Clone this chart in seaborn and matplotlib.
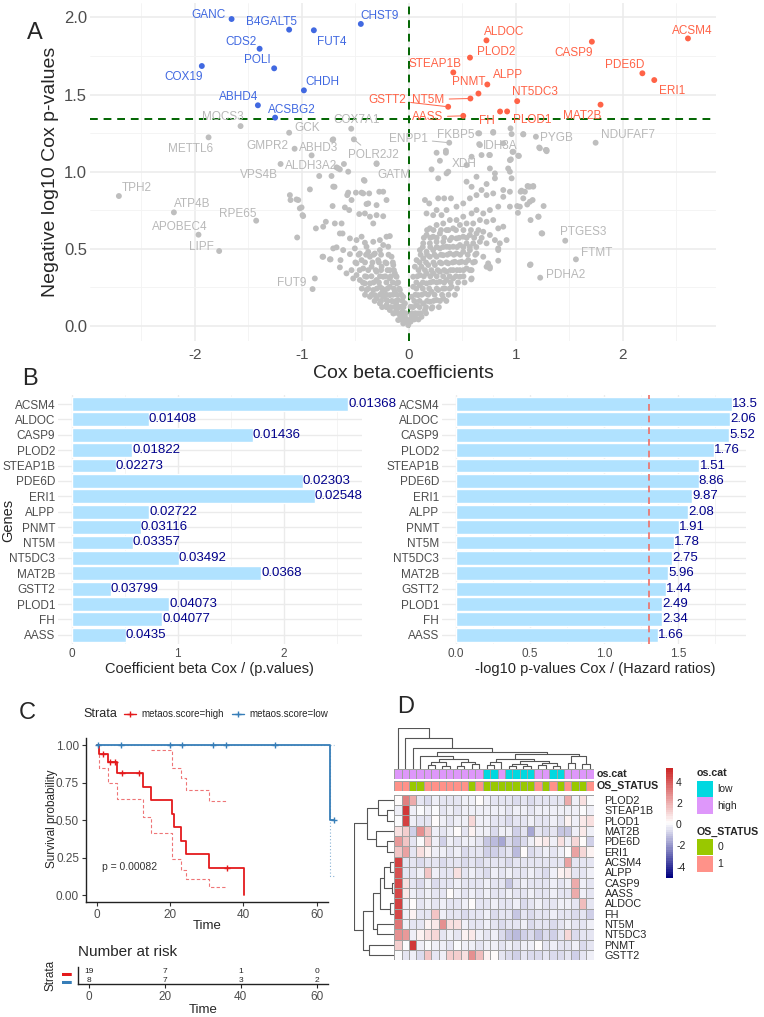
import matplotlib
matplotlib.use('Agg')
import matplotlib.pyplot as plt
from matplotlib.colors import LinearSegmentedColormap, ListedColormap
from matplotlib.lines import Line2D
from matplotlib.patches import Rectangle
from matplotlib.ticker import FormatStrFormatter
import numpy as np
import pandas as pd
import seaborn as sns

# ---------------------------------------------------------------- data
# significant positive genes (panel A red points, panel B bars)
sig_genes = ['ACSM4', 'ALDOC', 'CASP9', 'PLOD2', 'STEAP1B', 'PDE6D', 'ERI1', 'ALPP',
             'PNMT', 'NT5M', 'NT5DC3', 'MAT2B', 'GSTT2', 'PLOD1', 'FH', 'AASS']
sig_beta = [2.608, 0.725, 1.710, 0.571, 0.415, 2.182, 2.293, 0.733,
            0.650, 0.575, 1.012, 1.791, 0.367, 0.918, 0.852, 0.508]
sig_pval = [0.01368, 0.01408, 0.01436, 0.01822, 0.02273, 0.02303, 0.02548, 0.02722,
            0.03116, 0.03357, 0.03492, 0.0368, 0.03799, 0.04073, 0.04077, 0.0435]
sig_hr = ['13.5', '2.06', '5.52', '1.76', '1.51', '8.86', '9.87', '2.08',
          '1.91', '1.78', '2.75', '5.96', '1.44', '2.49', '2.34', '1.66']

# significant negative genes (blue)
neg_genes = ['GANC', 'B4GALT5', 'FUT4', 'CHST9', 'CDS2', 'POLI', 'COX19', 'CHDH', 'ABHD4', 'ACSBG2']
neg_beta = [-1.657, -1.119, -0.888, -0.449, -1.395, -1.259, -1.935, -0.981, -1.411, -1.250]
neg_logp = [1.990, 1.921, 1.917, 1.958, 1.797, 1.670, 1.685, 1.527, 1.430, 1.350]

# labelled non significant genes (grey)
grey_genes = ['MOCS3', 'METTL6', 'GCK', 'GMPR2', 'ABHD3', 'COX7A1', 'POLR2J2', 'VPS4B',
              'ALDH3A2', 'GATM', 'ENPP1', 'FKBP5', 'IDH3A', 'PYGB', 'NDUFAF7', 'XDH',
              'TPH2', 'ATP4B', 'RPE65', 'APOBEC4', 'LIPF', 'FUT9', 'PTGES3', 'FTMT', 'PDHA2']
grey_beta = [-1.573, -1.872, -1.119, -1.068, -0.909, -0.539, -0.514, -1.199,
             -0.661, -0.414, 0.377, 0.657, 0.657, 1.187, 1.745, 0.368,
             -2.710, -2.196, -1.427, -1.966, -1.773, -0.900, 1.461, 1.561, 1.227]
grey_logp = [1.295, 1.222, 1.252, 1.148, 1.105, 1.278, 1.209, 1.049,
             1.021, 0.940, 1.187, 1.248, 1.178, 1.226, 1.187, 0.999,
             0.841, 0.735, 0.681, 0.590, 0.484, 0.237, 0.551, 0.430, 0.311]

# unlabelled background genes (beta, -log10 p)
cloud = [
    (-1.050, 0.819), (-1.003, 0.767), (-0.988, 0.711), (-0.869, 0.631), (-0.801, 0.642),
    (-0.692, 0.663), (-0.629, 0.663), (-0.620, 0.598), (-1.044, 0.572), (-0.925, 0.884),
    (-1.112, 0.847), (-1.106, 0.815), (-1.034, 0.815), (-1.019, 0.761), (-0.994, 0.717),
    (-0.776, 0.674), (-0.713, 0.776), (-0.695, 0.901), (-0.838, 0.971), (-0.723, 0.971),
    (-0.567, 0.999), (-0.598, 0.767), (-0.645, 0.598), (-0.807, 0.447), (-0.732, 0.430),
    (-0.707, 0.501), (-0.645, 0.378), (-0.567, 0.863), (-0.495, 0.863), (-0.536, 0.815),
    (-0.427, 0.858), (-0.380, 0.793), (-0.302, 0.782), (-0.240, 0.869), (-0.209, 0.815),
    (-0.713, 1.205), (-0.302, 1.053), (-0.645, 1.014), (-0.676, 1.027), (-0.707, 0.902),
    (-0.421, 0.945), (-0.576, 0.847), (-0.442, 0.863), (-0.371, 0.858), (-0.277, 0.869),
    (-0.396, 0.789), (-0.558, 0.750), (-0.411, 0.728), (-0.364, 0.707), (-0.464, 0.724),
    (-0.302, 0.717), (-0.333, 0.663), (-0.240, 0.710), (-0.551, 0.566), (-0.489, 0.555),
    (-0.442, 0.577), (-0.411, 0.538), (-0.333, 0.544), (-0.271, 0.555), (-0.209, 0.577),
    (-0.178, 0.581), (-0.676, 0.508), (-0.614, 0.490), (-0.801, 0.447), (-0.738, 0.430),
    (-0.639, 0.425), (-0.551, 0.464), (-0.505, 0.501), (-0.458, 0.468), (-0.396, 0.512),
    (-0.364, 0.447), (-0.318, 0.468), (-0.271, 0.490), (-0.240, 0.523), (-0.193, 0.512),
    (-0.162, 0.447), (-0.879, 0.306), (-0.489, 0.404), (-0.427, 0.371), (-0.536, 0.360),
    (-0.583, 0.339), (-0.396, 0.317), (-0.349, 0.382), (-0.302, 0.350), (-0.255, 0.382),
    (-0.209, 0.404), (-0.178, 0.360), (-0.458, 0.296), (-0.364, 0.274), (-0.302, 0.296),
    (-0.240, 0.317), (-0.178, 0.306), (-0.131, 0.339), (-0.333, 0.231), (-0.271, 0.252),
    (-0.224, 0.231), (-0.178, 0.252), (-0.115, 0.274), (-0.364, 0.187), (-0.302, 0.176),
    (-0.240, 0.187), (-0.178, 0.198), (-0.131, 0.220), (-0.084, 0.231), (-0.271, 0.144),
    (-0.209, 0.133), (-0.146, 0.155), (-0.100, 0.166), (-0.053, 0.187), (-0.178, 0.101),
    (-0.115, 0.101), (-0.069, 0.122), (-0.037, 0.144), (-0.084, 0.068), (-0.037, 0.057),
    (-0.022, 0.025), (-0.006, 0.003), (-0.411, 0.274), (-0.396, 0.231), (-0.318, 0.198),
    (-0.255, 0.209), (-0.209, 0.166), (-0.115, 0.133), (-0.146, 0.079), (-0.059, 0.090),
    (-0.100, 0.036), (-0.053, 0.014), (-0.489, 0.328), (-0.520, 0.306), (-0.442, 0.425),
    (-0.287, 0.425), (-0.146, 0.393), (-0.115, 0.317), (-0.380, 0.479), (-0.707, 1.209),
    (-0.607, 1.049), (-0.302, 1.049),
    (0.150, 0.815), (0.165, 0.728), (0.190, 0.793), (0.274, 0.826), (0.330, 0.826),
    (0.393, 0.826), (0.259, 0.750), (0.227, 0.717), (0.305, 0.717), (0.352, 0.750),
    (0.445, 0.772), (0.508, 0.793), (0.570, 0.826), (0.632, 0.847), (0.679, 0.880),
    (0.726, 0.847), (0.788, 0.858), (0.882, 0.880), (0.944, 0.869), (1.053, 0.876),
    (1.115, 0.902), (1.162, 0.902), (1.037, 0.772), (1.131, 0.804), (1.209, 0.707),
    (1.240, 0.599), (1.131, 0.393), (0.944, 0.772), (0.835, 0.772), (0.882, 0.836),
    (0.757, 0.750), (0.695, 0.728), (0.632, 0.750), (0.586, 0.728), (0.508, 0.707),
    (0.445, 0.685), (0.383, 0.685), (0.321, 0.663), (0.259, 0.653), (0.196, 0.631),
    (0.165, 0.588), (0.227, 0.577), (0.290, 0.598), (0.352, 0.620), (0.414, 0.631),
    (0.477, 0.653), (0.539, 0.663), (0.601, 0.663), (0.664, 0.685), (0.726, 0.674),
    (0.788, 0.685), (0.835, 0.631), (0.882, 0.642), (0.850, 0.534), (0.835, 0.490),
    (0.757, 0.382), (0.134, 0.534), (0.196, 0.534), (0.259, 0.544), (0.321, 0.544),
    (0.383, 0.555), (0.445, 0.566), (0.508, 0.577), (0.570, 0.588), (0.632, 0.598),
    (0.695, 0.609), (0.757, 0.588), (0.804, 0.555), (0.103, 0.490), (0.165, 0.479),
    (0.227, 0.490), (0.290, 0.501), (0.352, 0.512), (0.414, 0.512), (0.477, 0.523),
    (0.539, 0.534), (0.601, 0.534), (0.664, 0.544), (0.726, 0.534), (0.072, 0.425),
    (0.134, 0.436), (0.196, 0.447), (0.259, 0.447), (0.321, 0.457), (0.383, 0.468),
    (0.445, 0.468), (0.508, 0.479), (0.570, 0.490), (0.632, 0.468), (0.695, 0.447),
    (0.741, 0.404), (0.056, 0.382), (0.118, 0.382), (0.181, 0.393), (0.243, 0.393),
    (0.305, 0.404), (0.368, 0.404), (0.430, 0.414), (0.492, 0.414), (0.555, 0.425),
    (0.617, 0.414), (0.586, 0.306), (0.040, 0.317), (0.103, 0.328), (0.165, 0.339),
    (0.227, 0.339), (0.290, 0.350), (0.352, 0.350), (0.414, 0.360), (0.477, 0.360),
    (0.539, 0.371), (0.040, 0.252), (0.103, 0.263), (0.165, 0.274), (0.227, 0.285),
    (0.290, 0.285), (0.352, 0.296), (0.414, 0.306), (0.477, 0.317), (0.025, 0.187),
    (0.087, 0.198), (0.150, 0.209), (0.212, 0.220), (0.274, 0.231), (0.336, 0.241),
    (0.399, 0.252), (0.016, 0.122), (0.072, 0.133), (0.134, 0.144), (0.196, 0.155),
    (0.259, 0.166), (0.321, 0.176), (0.025, 0.068), (0.087, 0.079), (0.150, 0.101),
    (0.212, 0.111), (0.016, 0.025), (0.065, 0.047), (0.118, 0.057),
    (0.259, 1.122), (0.290, 1.070), (0.212, 1.014), (0.274, 0.956), (0.539, 1.042),
    (0.586, 1.096), (0.679, 1.107), (0.757, 1.020), (0.804, 0.956), (0.804, 0.988),
    (0.928, 1.020), (0.944, 0.999), (0.944, 1.074), (0.960, 0.956), (0.539, 0.934),
    (0.632, 0.966), (0.726, 0.919), (0.586, 0.901), (0.648, 1.248), (0.788, 1.252),
    (0.664, 1.172), (0.882, 1.183), (0.960, 1.243), (1.069, 1.243), (1.280, 1.140),
    (1.224, 1.151), (1.131, 0.902), (1.084, 0.869), (1.246, 0.598), (1.137, 0.397),
    (1.259, 0.776), (1.212, 0.707), (1.137, 0.685), (1.156, 0.815), (1.106, 0.786),
    (1.019, 0.732), (1.012, 0.776), (1.109, 0.906), (1.162, 0.906), (1.069, 0.826),
    (1.044, 0.869), (0.913, 0.555), (0.835, 0.501), (0.835, 0.421), (0.757, 0.371),
    (0.726, 0.382), (0.583, 0.300), (0.586, 0.360), (1.028, 1.101), (0.975, 1.128),
    (0.953, 1.079), (0.757, 1.107), (1.287, 1.132), (0.352, 0.988), (0.346, 1.135),
    (0.788, 1.257), (0.950, 1.280), (1.069, 1.241), (1.218, 1.156), (1.287, 1.139),
    (0.751, 1.107), (0.969, 1.128), (1.022, 1.103), (0.346, 1.122),
]
# the dense lower part of the V, read row by row: -log10 p -> betas
cloud_dense = {
    0.04: [-0.02, -0.05, -0.08, 0.02, 0.05, 0.09],
    0.08: [-0.03, -0.06, -0.10, -0.14, 0.03, 0.06, 0.11, 0.16],
    0.12: [-0.05, -0.09, -0.13, -0.17, -0.21, -0.25, 0.04, 0.10, 0.16, 0.22, 0.28],
    0.16: [-0.06, -0.12, -0.16, -0.20, -0.26, -0.32, 0.05, 0.10, 0.17, 0.23, 0.29, 0.35],
    0.20: [-0.07, -0.11, -0.15, -0.21, -0.27, -0.35, -0.41, 0.06, 0.12, 0.18, 0.24, 0.31,
           0.37, 0.43],
    0.24: [-0.09, -0.14, -0.20, -0.25, -0.30, -0.38, -0.44, 0.07, 0.13, 0.19, 0.26, 0.32,
           0.38, 0.45],
    0.28: [-0.10, -0.15, -0.21, -0.28, -0.33, -0.43, 0.07, 0.13, 0.20, 0.26, 0.33, 0.39,
           0.46, 0.52],
    0.32: [-0.12, -0.17, -0.22, -0.27, -0.35, -0.41, 0.08, 0.14, 0.20, 0.26, 0.32, 0.38,
           0.44, 0.51],
    0.36: [-0.14, -0.20, -0.26, -0.31, -0.38, -0.46, 0.09, 0.15, 0.21, 0.27, 0.33, 0.39,
           0.45, 0.51, 0.57],
    0.41: [-0.15, -0.22, -0.28, -0.34, -0.41, -0.50, 0.10, 0.16, 0.23, 0.29, 0.35, 0.41,
           0.47, 0.53, 0.60],
    0.46: [-0.19, -0.26, -0.33, -0.40, -0.47, 0.11, 0.17, 0.24, 0.30, 0.36, 0.42, 0.48,
           0.55, 0.62],
    0.51: [0.13, 0.20, 0.26, 0.32, 0.38, 0.45, 0.51, 0.57, 0.63],
    0.57: [0.14, 0.20, 0.26, 0.33, 0.40, 0.47, 0.54, 0.61, 0.68],
    0.62: [0.17, 0.23, 0.30, 0.37, 0.44, 0.51, 0.58, 0.65],
}
cloud_beta = [c[0] for c in cloud] + [b for v in cloud_dense.values() for b in v]
cloud_logp = [c[1] for c in cloud] + [y for y, v in cloud_dense.items() for _ in v]
p_cut = 1.34

# survival curves (panel C)
high_t = [0, 0.64, 3.2, 5.45, 12.7, 14.7, 20.6, 21.0, 23.1, 24.4, 30.5, 40.3]
high_s = [1.0, 0.944, 0.889, 0.813, 0.724, 0.633, 0.542, 0.453, 0.362, 0.273, 0.182, 0.0]
high_up_t = [14.7, 20.6, 23.1, 24.4, 30.5, 35.5]
high_up_s = [0.969, 0.851, 0.780, 0.704, 0.627, 0.627]
high_lo_t = [0, 0.64, 3.2, 5.45, 12.7, 14.7, 20.6, 23.1, 24.4, 30.5, 35.5]
high_lo_s = [1.0, 0.849, 0.747, 0.640, 0.520, 0.413, 0.240, 0.169, 0.107, 0.053, 0.053]
high_cens_t = [1.6, 3.6, 5.0, 6.9, 11.6, 35.5]
high_cens_s = [0.944, 0.889, 0.889, 0.813, 0.813, 0.182]
low_t = [0, 63.7, 64.8]
low_s = [1.0, 0.5, 0.5]
low_lo_s = [1.0, 0.127, 0.127]
low_cens_t = [0.45, 6.7, 20.1, 23.3, 31.8, 35.2, 48.7, 64.8]
low_cens_s = [1, 1, 1, 1, 1, 1, 1, 0.5]
risk_times = [0, 20, 40, 60]
risk_high = [19, 7, 1, 0]
risk_low = [8, 7, 3, 2]

# heatmap (panel D)
heat_genes = ['PLOD2', 'STEAP1B', 'PLOD1', 'MAT2B', 'PDE6D', 'ERI1', 'ACSM4', 'ALPP',
              'CASP9', 'AASS', 'ALDOC', 'FH', 'NT5M', 'NT5DC3', 'PNMT', 'GSTT2']
heat_values = [
    [0.3, 3.2, 2.0, -0.5, -0.6, -0.2, -0.5, -0.4, -0.5, -0.3, -0.2, 0.3, -0.3, -0.4, -0.5, -0.5, -0.6, -0.5, -0.6, -0.5, -0.5, -0.4, -0.4, 2.0, -0.3, 0.8, -0.1],
    [-0.3, 4.8, -0.2, -0.1, -0.3, -0.1, -0.4, -0.2, -0.4, -0.3, -0.2, -0.3, -0.2, -0.2, -0.3, -0.4, -0.3, -0.3, -0.4, -0.3, -0.2, -0.3, -0.3, -0.2, -0.2, -0.1, -0.3],
    [-0.1, 4.5, -0.2, -0.5, -0.4, 0.3, -0.3, -0.4, -0.3, -0.2, 1.0, -0.3, -0.3, -0.5, -0.4, -0.6, -0.4, -0.5, -0.3, -0.5, -0.4, -0.2, -0.4, 0.5, -0.2, 0.6, 0.8],
    [0.8, 1.2, -0.8, 2.8, 1.5, -0.3, -0.5, -0.2, 0.3, -0.4, 0.5, -0.3, -0.2, -0.6, -0.3, -0.2, -0.8, -0.4, -1.6, -0.4, -0.7, -0.5, -1.0, -1.0, -0.3, 0.6, -0.3],
    [2.5, 1.5, -0.5, -0.1, 1.3, -0.3, -0.8, -0.3, -0.5, -0.2, -0.3, -0.4, -1.0, -1.2, -1.6, -0.6, -1.0, -0.6, -0.3, 0.5, 0.6, -0.2, 0.8, -0.3, 1.0, 0.3, -0.8],
    [1.5, 2.2, -0.4, 0.8, 0.5, -0.3, -0.2, -0.5, -0.3, -0.6, -0.4, -0.5, -0.8, -0.9, -0.6, -0.5, -1.3, 0.2, -0.6, -0.4, -0.2, -0.5, -0.3, 0.3, 2.2, 1.0, 0.5],
    [4.5, -0.5, -0.4, -0.6, -0.5, -0.4, -0.6, -0.5, -0.4, -0.6, -0.4, -0.6, -0.5, -0.4, -0.5, -0.6, -0.5, -0.4, -0.5, -0.4, -0.5, -0.5, -0.4, 2.3, -0.5, -0.4, -0.5],
    [4.2, -0.4, -0.5, -0.3, 1.5, -0.3, -0.5, -0.4, 0.8, -0.5, -0.3, -0.4, -0.6, -0.3, -0.4, -0.3, -0.4, -0.5, -0.3, -0.5, -0.6, -0.3, 0.5, 0.6, -0.4, -0.5, -0.3],
    [4.3, 0.8, -0.5, -0.7, -0.3, -0.6, -0.4, -0.5, -0.3, -0.5, -0.4, -0.5, -0.3, -0.5, -0.4, -1.0, -0.4, -0.3, -0.5, -0.4, -0.5, -0.3, -0.4, -0.2, 2.0, -0.3, -0.4],
    [4.4, 0.6, -0.3, -0.5, -0.2, -0.4, -0.5, 0.3, -0.3, -0.4, -0.2, -0.5, -0.3, -0.4, -0.5, -0.3, -0.5, -0.4, -0.3, -0.5, -0.4, -0.3, -0.5, -0.4, 2.0, -0.3, -0.5],
    [4.5, -0.2, 0.3, -0.4, -0.3, -0.5, -0.3, -0.4, -0.5, -0.3, 0.3, -0.4, -0.5, -0.3, -0.4, -0.5, -0.3, -0.6, -0.4, -0.3, -0.5, -0.4, -0.3, -0.2, -0.5, 1.6, -0.4],
    [4.4, -0.3, 0.4, -0.4, -0.5, 1.4, -0.3, -0.5, -0.4, -0.6, -0.5, -0.4, -0.3, -0.6, -0.4, -0.5, -1.0, -0.5, -0.6, -0.4, -0.5, -0.3, -0.4, -0.5, -0.6, -0.4, -0.8],
    [3.4, -0.3, -0.5, -0.4, 0.5, 0.6, 2.6, 0.8, 0.9, -0.3, -0.5, -0.4, -0.3, -0.5, -0.6, -0.4, -0.5, -0.3, -0.6, -0.4, -0.5, -0.6, -0.4, -0.3, -0.5, -0.4, -0.3],
    [2.8, 2.5, -0.3, 0.4, 0.9, 1.0, -0.4, -0.3, -0.5, 0.5, 0.7, -0.3, -0.5, -0.2, -0.6, -1.0, -1.2, -0.9, -0.7, -1.0, -0.6, -0.8, -0.5, 1.0, -0.6, -0.5, -0.4],
    [1.3, -0.1, 4.8, -0.3, -0.1, -0.3, -0.2, -0.4, -0.1, -0.3, -0.2, -0.4, -0.3, -0.2, -0.5, -0.3, -0.4, -0.2, -0.3, 0.3, -0.4, -0.3, -0.5, -0.4, -0.3, -0.6, -0.4],
    [-0.1, -0.5, -0.2, -0.6, 1.4, -0.5, -0.3, 1.2, 1.3, 0.9, 2.6, 1.6, 0.5, 0.3, -0.5, -0.6, -0.8, -0.5, -0.7, -0.6, -0.5, -0.7, -0.6, -0.4, -0.8, -0.5, -0.3],
]
os_cat = ['high'] * 12 + ['low', 'low', 'high', 'low', 'low', 'low', 'low',
                          'high', 'high', 'low', 'low'] + ['high'] * 4
os_status = [1, 1, 0, 0, 1, 1, 1, 1, 1, 1, 0, 1,
             0, 0, 0, 0, 0, 0, 0, 1, 0, 1, 0, 1, 0, 0, 1]

# dendrograms as (left, right, height) trees, leaves are column / row indices
col_tree = (0, (1, (2, ((3, (((4, 5, 12), (6, 7, 10), 20), ((8, 9, 8), (10, 11, 14), 22), 30), 38),
                       ((((12, 13, 12), 14, 20), (((15, 16, 8), (17, 18, 10), 16),
                                                  ((19, 20, 12), (21, 22, 10), 18), 24), 30),
                        ((23, 24, 18), (25, 26, 14), 40), 46), 52), 62), 92), 122)
row_tree = (((0, (1, 2, 20), 48), (3, (4, 5, 20), 53), 80),
            (((((6, 7, 13), (8, 9, 8), 30), (10, 11, 13), 40), (12, 13, 51), 60),
             (14, 15, 73), 90), 116)

# ---------------------------------------------------------------- style
W, H = 764, 1017
RED, BLUE, GREY = '#FF6347', '#4169E1', '#BEBEBE'
BAR = '#B0E2FF'
TXT = '#4D4D4D'
KM_RED, KM_BLUE = '#E41A1C', '#377EB8'
CAT_COL = {'low': '#00D8E0', 'high': '#DE97FA'}
STAT_COL = {0: '#99C800', 1: '#FF9289'}

# label offsets in pixels (dx, dy downwards, leader line)
lab_off = {
    'GANC': (-23, -4, 0), 'B4GALT5': (-18, -8, 0), 'FUT4': (18, 12, 0), 'CHST9': (19, -8, 0),
    'CDS2': (-19, -7, 0), 'POLI': (-17, -8, 0), 'COX19': (-18, 11, 0), 'CHDH': (18, -8, 0),
    'ABHD4': (-19, -8, 0), 'ACSBG2': (17, -8, 0),
    'ACSM4': (4, -7, 0), 'ALDOC': (18, -8, 0), 'CASP9': (-18, 11, 0), 'PLOD2': (26, -6, 0),
    'STEAP1B': (-18, -8, 0), 'PDE6D': (-18, -8, 0), 'ERI1': (18, 11, 0), 'ALPP': (21, -9, 0),
    'PNMT': (-10, -12, 0), 'NT5M': (-42, 1, 1), 'NT5DC3': (18, -9, 0), 'MAT2B': (-18, 11, 0),
    'GSTT2': (-61, -7, 1), 'PLOD1': (25, 9, 0), 'FH': (-13, 9, 0), 'AASS': (-36, 1, 1),
    'MOCS3': (-18, -9, 0), 'METTL6': (-18, 12, 0), 'GCK': (18, -5, 0), 'GMPR2': (-27, -3, 0),
    'ABHD3': (7, -7, 0), 'COX7A1': (5, -9, 0), 'POLR2J2': (19, 16, 1), 'VPS4B': (-22, 11, 0),
    'ALDH3A2': (-27, -2, 0), 'GATM': (29, -6, 0), 'ENPP1': (-41, -4, 1), 'FKBP5': (-23, 2, 0),
    'IDH3A': (21, 2, 0), 'PYGB': (21, 1, 0), 'NDUFAF7': (32, -8, 0), 'XDH': (16, -8, 0),
    'TPH2': (18, -8, 0), 'ATP4B': (18, -8, 0), 'RPE65': (-18, -7, 0), 'APOBEC4': (-19, -8, 0),
    'LIPF': (-18, -4, 0), 'FUT9': (-21, -6, 0), 'PTGES3': (18, -9, 0), 'FTMT': (21, -6, 0),
    'PDHA2': (25, -3, 0),
}


def box(x0, y0, x1, y1):
    return [x0 / W, 1 - y1 / H, (x1 - x0) / W, (y1 - y0) / H]


def ftext(x, y, s, **kw):
    fig.text(x / W, 1 - y / H, s, **kw)


def tree_segments(node):
    if isinstance(node, int):
        return node + 0.5, 0.0, []
    left, right, h = node
    pl, hl, sl = tree_segments(left)
    pr, hr, sr = tree_segments(right)
    seg = [(pl, hl), (pl, h), (pr, h), (pr, hr)]
    return (pl + pr) / 2, h, sl + sr + [seg]


sns.set_theme(style='white')
plt.rcParams['font.family'] = ['Liberation Sans', 'DejaVu Sans']
plt.rcParams['axes.unicode_minus'] = False

fig = plt.figure(figsize=(W / 100, H / 100), dpi=100)

# ---------------------------------------------------------------- panel A
ax = fig.add_axes(box(90, 3, 716, 341))
volc = pd.DataFrame({
    'beta': cloud_beta + grey_beta + neg_beta + sig_beta,
    'logp': cloud_logp + grey_logp + neg_logp + list(-np.log10(sig_pval)),
    'group': ['ns'] * (len(cloud_beta) + len(grey_beta)) + ['down'] * len(neg_beta)
             + ['up'] * len(sig_beta),
})
sns.scatterplot(data=volc, x='beta', y='logp', hue='group', hue_order=['ns', 'down', 'up'],
                palette={'ns': GREY, 'down': BLUE, 'up': RED}, s=18, linewidth=0,
                legend=False, ax=ax, zorder=3)
ax.axvline(0, color='#006400', ls=(0, (4, 3)), lw=1.4, zorder=2)
ax.axhline(p_cut, color='#006400', ls=(0, (4, 3)), lw=1.4, zorder=2)

labelled = ([(g, b, l, BLUE) for g, b, l in zip(neg_genes, neg_beta, neg_logp)]
            + [(g, b, l, RED) for g, b, l in zip(sig_genes, sig_beta, -np.log10(sig_pval))]
            + [(g, b, l, '#B8B8B8') for g, b, l in zip(grey_genes, grey_beta, grey_logp)])
for g, b, l, c in labelled:
    dx, dy, lead = lab_off[g]
    arrow = dict(arrowstyle='-', color=c, lw=0.7, shrinkA=1, shrinkB=2) if lead else None
    ax.annotate(g, (b, l), xytext=(dx, -dy), textcoords='offset pixels', ha='center',
                va='center', fontsize=8.5, color=c, arrowprops=arrow, zorder=4)

ax.set_xlim(-2.98, 2.87)
ax.set_ylim(-0.10, 2.094)
ax.set_xticks([-2, -1, 0, 1, 2])
ax.set_xticks([-2.5, -1.5, -0.5, 0.5, 1.5, 2.5], minor=True)
ax.set_yticks([0, 0.5, 1.0, 1.5, 2.0])
ax.set_yticks([0.25, 0.75, 1.25, 1.75], minor=True)
ax.yaxis.set_major_formatter(FormatStrFormatter('%.1f'))
ax.set_axisbelow(True)
ax.grid(True, which='major', color='#EBEBEB', lw=1.1)
ax.grid(True, which='minor', color='#F3F3F3', lw=0.6)
ax.tick_params(which='both', length=0)
ax.tick_params(axis='x', labelsize=11, labelcolor=TXT, pad=5)
ax.tick_params(axis='y', labelsize=12, labelcolor=TXT, pad=2)
ax.set_xlabel('')
ax.set_ylabel('')
sns.despine(ax=ax, left=True, bottom=True)
ftext(35, 33, 'A', fontsize=17, ha='center', va='center')
ftext(51, 172, 'Negative log10 Cox p-values', fontsize=14, rotation=90, ha='center', va='center')
ftext(403, 374, 'Cox beta.coefficients', fontsize=14, ha='center', va='center')

# ---------------------------------------------------------------- panel B
bars = pd.DataFrame({'gene': sig_genes, 'beta': sig_beta, 'logp': -np.log10(sig_pval)})
specs = [
    (box(58, 394.8, 362, 644), 'beta', [f'{p:g}' for p in sig_pval], (-0.13, 2.74),
     [0, 1, 2], [0.5, 1.5, 2.5], 'Coefficient beta Cox / (p.values)', 209.5),
    (box(442, 394.8, 746, 644), 'logp', sig_hr, (-0.093, 1.957),
     [0, 0.5, 1.0, 1.5], [0.25, 0.75, 1.25, 1.75], '-log10 p-values Cox / (Hazard ratios)', 595),
]
for k, (pos, col, texts, xlim, major, minor, xlab, xc) in enumerate(specs):
    axb = fig.add_axes(pos)
    sns.barplot(data=bars, x=col, y='gene', color=BAR, saturation=1, width=0.9, ax=axb, zorder=2)
    for i, (v, t) in enumerate(zip(bars[col], texts)):
        axb.text(v, i, t, ha='left', va='center', color='#00008B', fontsize=9.5,
                 clip_on=False, zorder=5)
    if k == 1:
        axb.axvline(-np.log10(0.05), color='#EE7068', ls=(0, (4, 3)), lw=1.2, zorder=3)
        axb.xaxis.set_major_formatter(FormatStrFormatter('%.1f'))
    axb.set_xlim(*xlim)
    axb.set_ylim(15.6, -0.6)
    axb.set_xticks(major)
    axb.set_xticks(minor, minor=True)
    axb.set_axisbelow(True)
    axb.grid(True, which='major', color='#EBEBEB', lw=1.0)
    axb.grid(True, which='minor', axis='x', color='#F3F3F3', lw=0.6)
    axb.tick_params(which='both', length=0, labelsize=8.5, labelcolor=TXT)
    axb.tick_params(axis='x', pad=3)
    axb.tick_params(axis='y', pad=2)
    axb.set_xlabel('')
    axb.set_ylabel('')
    sns.despine(ax=axb, left=True, bottom=True)
    ftext(xc, 669, xlab, fontsize=10.5, ha='center', va='center')
ftext(30, 379, 'B', fontsize=17, ha='center', va='center')
ftext(8, 520, 'Genes', fontsize=10.5, rotation=90, ha='center', va='center')

# ---------------------------------------------------------------- panel C
axk = fig.add_axes(box(86, 737.7, 327.7, 902))
axk.step(high_up_t, high_up_s, where='post', color=KM_RED, alpha=0.6, lw=0.8, ls=(0, (3, 2)))
axk.step(high_lo_t, high_lo_s, where='post', color=KM_RED, alpha=0.6, lw=0.8, ls=(0, (3, 2)))
axk.step(low_t, low_lo_s, where='post', color=KM_BLUE, alpha=0.6, lw=0.8, ls=(0, (1, 2)),
         clip_on=False)
axk.plot([63.7, 64.8], [1, 1], color=KM_BLUE, alpha=0.6, lw=0.8, ls=(0, (1, 2)), clip_on=False)
axk.step(high_t, high_s, where='post', color=KM_RED, lw=1.3)
axk.step(low_t, low_s, where='post', color=KM_BLUE, lw=1.3, clip_on=False)
axk.plot(high_cens_t, high_cens_s, ls='none', marker='+', ms=5, mew=1, color=KM_RED)
axk.plot(low_cens_t, low_cens_s, ls='none', marker='+', ms=5, mew=1, color=KM_BLUE,
         clip_on=False)
axk.text(1.4, 0.19, 'p = 0.00082', fontsize=7.5, color='#333333', va='center')
axk.set_xlim(-2.92, 63.0)
axk.set_ylim(-0.045, 1.051)
axk.set_xticks([0, 20, 40, 60])
axk.set_yticks([0, 0.25, 0.5, 0.75, 1.0])
axk.yaxis.set_major_formatter(FormatStrFormatter('%.2f'))
axk.tick_params(length=3, width=0.8, color='#333333', labelsize=8.5, labelcolor=TXT,
                left=True, bottom=True, pad=2)
sns.despine(ax=axk)
for s in ['left', 'bottom']:
    axk.spines[s].set_color('#222222')
    axk.spines[s].set_linewidth(1.0)
ftext(27, 713, 'C', fontsize=17, ha='center', va='center')
ftext(52, 819, 'Survival probability', fontsize=8.5, rotation=90, ha='center', va='center')
ftext(207, 926, 'Time', fontsize=9.5, ha='center', va='center')

# legend on top
ftext(83, 714, 'Strata', fontsize=9, ha='left', va='center')
for x0, col, lab in [(124, KM_RED, 'metaos.score=high'), (232, KM_BLUE, 'metaos.score=low')]:
    fig.add_artist(Line2D([x0 / W, (x0 + 12) / W], [1 - 714 / H] * 2, color=col, lw=1.0))
    fig.add_artist(Line2D([(x0 + 6) / W], [1 - 714 / H], color=col, marker='+', ms=5, mew=1))
    ftext(x0 + 17.5, 714, lab, fontsize=7, ha='left', va='center')

# number at risk table
axr = fig.add_axes(box(77.7, 966.7, 327.7, 984))
for t, a, b in zip(risk_times, risk_high, risk_low):
    axr.text(t, 1, str(a), ha='center', va='center', fontsize=6, color='#222222')
    axr.text(t, 0, str(b), ha='center', va='center', fontsize=6, color='#222222')
axr.set_xlim(-2.9, 62.9)
axr.set_ylim(-0.48, 1.6)
axr.set_xticks(risk_times)
axr.set_yticks([1, 0])
axr.set_yticklabels(['\u25ac', '\u25ac'], fontsize=7)
for lab, col in zip(axr.get_yticklabels(), [KM_RED, KM_BLUE]):
    lab.set_color(col)
axr.tick_params(axis='x', length=3, width=0.8, labelsize=8.5, labelcolor=TXT, bottom=True, pad=2)
axr.tick_params(axis='y', length=0, pad=4)
sns.despine(ax=axr)
for s in ['left', 'bottom']:
    axr.spines[s].set_color('#222222')
    axr.spines[s].set_linewidth(1.0)
ftext(78, 952, 'Number at risk', fontsize=11, ha='left', va='center')
ftext(203, 1010, 'Time', fontsize=9.5, ha='center', va='center')
ftext(50, 975, 'Strata', fontsize=8.5, rotation=90, ha='center', va='center')

# ---------------------------------------------------------------- panel D
heat = pd.DataFrame(np.array(heat_values), index=heat_genes)
cmap = LinearSegmentedColormap.from_list('nwr', ['#000080', '#FFFFFF', '#CD2626'], N=50)
axh = fig.add_axes(box(394.3, 794.8, 593.5, 960.2))
cax = fig.add_axes(box(666, 767.7, 673.3, 878.3))
sns.heatmap(heat, cmap=cmap, vmin=-5.1, vmax=5.3, linewidths=0.5, linecolor='#A0A0A0',
            xticklabels=False, yticklabels=True, ax=axh, cbar_ax=cax,
            cbar_kws={'ticks': [-4, -2, 0, 2, 4]})
axh.tick_params(axis='y', left=False, right=False, labelleft=False, labelright=True,
                labelsize=7.8, pad=2, rotation=0)
axh.set_ylabel('')
cax.tick_params(length=0, labelsize=7.5, pad=2)
cbar = axh.collections[0].colorbar
if cbar is not None:
    cbar.outline.set_visible(False)

ann = [(os_cat, ['low', 'high'], CAT_COL, 769, 778.8, 'os.cat'),
       (os_status, [0, 1], STAT_COL, 780.8, 790.7, 'OS_STATUS')]
for vals, levels, cols, y0, y1, name in ann:
    axa = fig.add_axes(box(394.3, y0, 593.5, y1))
    codes = pd.DataFrame([[levels.index(v) for v in vals]])
    sns.heatmap(codes, cmap=ListedColormap([cols[l] for l in levels]), vmin=-0.5, vmax=1.5,
                linewidths=0.5, linecolor='#A0A0A0', cbar=False, xticklabels=False,
                yticklabels=False, ax=axa)
    ftext(596.7, (y0 + y1) / 2, name, fontsize=7.7, fontweight='bold', ha='left', va='center')

# dendrograms
axd = fig.add_axes(box(394.3, 728, 593.5, 769))
for seg in tree_segments(col_tree)[2]:
    xs, ys = zip(*seg)
    axd.plot(xs, ys, color='#555555', lw=0.8)
axd.set_xlim(0, 27)
axd.set_ylim(0, 122)
axd.axis('off')

axe = fig.add_axes(box(354, 794.8, 394.3, 960.2))
for seg in tree_segments(row_tree)[2]:
    ys, xs = zip(*seg)
    axe.plot(xs, ys, color='#555555', lw=0.8)
axe.set_xlim(116, 0)
axe.set_ylim(16, 0)
axe.axis('off')

# annotation legends
ftext(697, 773.3, 'os.cat', fontsize=7.7, fontweight='bold', ha='left', va='center')
ftext(697, 831.7, 'OS_STATUS', fontsize=7.7, fontweight='bold', ha='left', va='center')
for y0, col, lab in [(780.7, CAT_COL['low'], 'low'), (797.3, CAT_COL['high'], 'high'),
                     (839, STAT_COL[0], '0'), (855.7, STAT_COL[1], '1')]:
    fig.add_artist(Rectangle((697.3 / W, 1 - (y0 + 16.3) / H), 16 / W, 16.3 / H,
                             transform=fig.transFigure, facecolor=col, edgecolor='none'))
    ftext(717.5, y0 + 8.5, lab, fontsize=7.5, ha='left', va='center')
ftext(406, 707, 'D', fontsize=17, ha='center', va='center')

fig.savefig('out.png', dpi=100)
